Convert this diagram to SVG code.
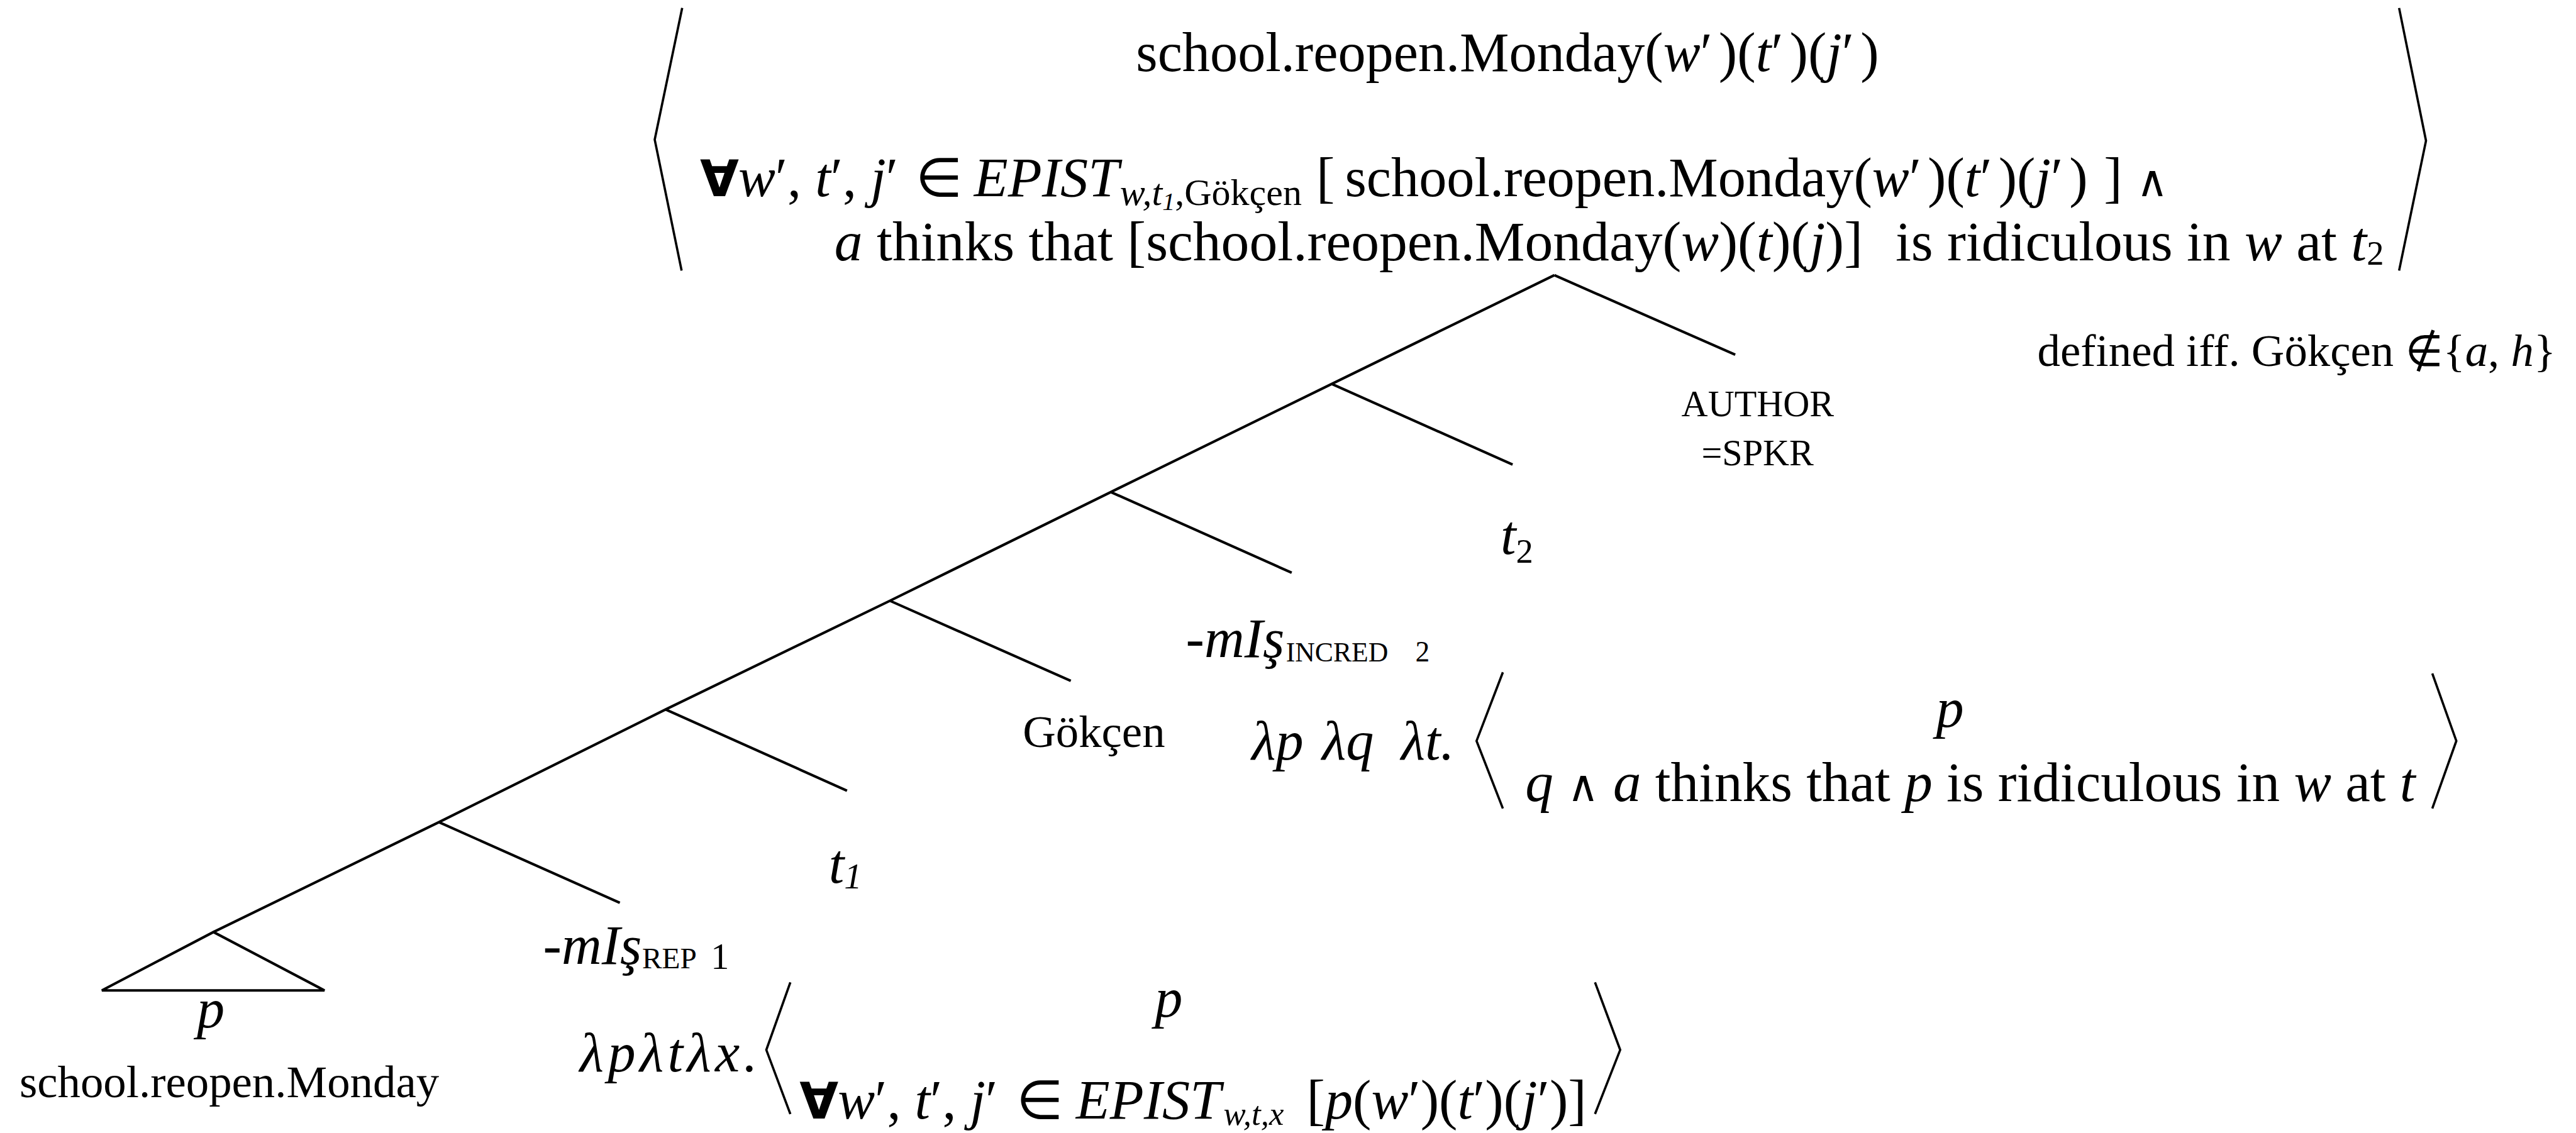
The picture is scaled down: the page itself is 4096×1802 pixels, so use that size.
<svg xmlns="http://www.w3.org/2000/svg" width="4096" height="1802" viewBox="0 0 4096 1802">
<style>
  text { font-family: 'Liberation Serif','Times New Roman','DejaVu Serif',serif; fill: #000; }
  .m { font-size: 97px; }
  .i { font-style: italic; }
  .s80 { font-size: 80px; }
  .s64 { font-size: 64px; }
  .sym { font-family: 'DejaVu Sans','Liberation Sans',sans-serif; font-style: normal; }
  .all { font-family: 'DejaVu Sans','Liberation Sans',sans-serif; font-style: normal; font-weight: bold; }
  .ln { stroke: #000; stroke-width: 4.5; fill: none; stroke-linecap: butt; stroke-linejoin: miter; }
  .br { stroke: #000; stroke-width: 4; fill: none; stroke-linejoin: miter; }
</style>
<rect x="0" y="0" width="4096" height="1802" fill="#ffffff"/>
<g transform="scale(0.91)">

  <!-- tree connectors -->
  <g id="connectors">
    <path class="ln" d="M2716,481 L2327,671 L1941,860 L1555,1050 L1163,1240 L767,1437 L373,1629"/>
    <path class="ln" d="M2716,481 L3032,620"/>
    <path class="ln" d="M2327,671 L2643,812"/>
    <path class="ln" d="M1941,860 L2257,1001"/>
    <path class="ln" d="M1555,1050 L1871,1190"/>
    <path class="ln" d="M1163,1240 L1480,1382"/>
    <path class="ln" d="M767,1437 L1083,1578"/>
  </g>

  <!-- root formula -->
  <g id="root-formula">
    <polyline class="br" points="1192,14 1144,244 1191,473"/>
    <polyline class="br" points="4192,14 4239,246 4192,473"/>
    <text class="m" x="1985" y="124">school.reopen.Monday(<tspan class="i">w</tspan>′<tspan dx="11">)(</tspan><tspan class="i">t</tspan>′<tspan dx="11">)(</tspan><tspan class="i">j</tspan>′<tspan dx="11">)</tspan></text>
    <text class="m" y="343"><tspan x="1223" class="all" font-size="88">∀</tspan><tspan x="1290" class="i">w</tspan>′, <tspan class="i">t</tspan>′, <tspan class="i">j</tspan>′ <tspan x="1600" class="sym" font-size="94">∈</tspan><tspan x="1702" class="i">EPIST</tspan><tspan x="1957" y="358" class="i" font-size="66">w,t</tspan><tspan y="367" class="i" font-size="44">1</tspan><tspan y="358" font-size="66">,Gökçen</tspan><tspan x="2300" y="343">[</tspan><tspan x="2350">school.reopen.Monday(</tspan><tspan class="i">w</tspan>′<tspan dx="11">)(</tspan><tspan class="i">t</tspan>′<tspan dx="11">)(</tspan><tspan class="i">j</tspan>′<tspan dx="11">)</tspan><tspan x="3676">]</tspan><tspan x="3733" class="sym" font-size="76">∧</tspan></text>
    <text font-size="98.5" y="455"><tspan x="1458" class="i">a</tspan> thinks that [school.reopen.Monday(<tspan class="i">w</tspan>)(<tspan class="i">t</tspan>)(<tspan class="i">j</tspan>)]<tspan x="3312">is ridiculous in </tspan><tspan class="i">w</tspan> at <tspan class="i">t</tspan><tspan y="463" font-size="60">2</tspan></text>
  </g>

  <g id="definedness">
    <text class="s80" x="3560" y="640">defined iff. Gökçen <tspan class="sym" font-size="76">∉</tspan>{<tspan class="i">a</tspan>, <tspan class="i">h</tspan>}</text>
  </g>

  <g id="node-author">
    <text class="s64" x="2938" y="727">AUTHOR</text>
    <text class="s64" x="2973" y="813">=SPKR</text>
  </g>

  <g id="node-t2">
    <text class="m i" x="2622" y="968">t<tspan y="983" font-size="60" font-style="normal">2</tspan></text>
  </g>

  <g id="node-incred">
    <text class="m" y="1148"><tspan x="2072">-</tspan><tspan class="i">mIş</tspan><tspan x="2247" y="1156" font-size="48">INCRED</tspan><tspan x="2473" y="1156" font-size="50">2</tspan></text>
  </g>

  <g id="node-incred-meaning">
    <text class="m i" y="1328"><tspan x="2187">λp</tspan><tspan x="2310">λq</tspan><tspan x="2448">λt.</tspan></text>
    <polyline class="br" points="2626,1175 2580,1295 2626,1413"/>
    <polyline class="br" points="4250,1177 4292,1295 4250,1413"/>
    <text class="m i" x="3383" y="1270">p</text>
    <text x="2665" y="1400" font-size="98"><tspan class="i">q</tspan> <tspan class="sym" font-size="76">∧</tspan> <tspan class="i">a</tspan> thinks that <tspan class="i">p</tspan> is ridiculous in <tspan class="i">w</tspan> at <tspan class="i">t</tspan></text>
  </g>

  <g id="node-gokcen">
    <text class="s80" x="1787" y="1305">Gökçen</text>
  </g>

  <g id="node-t1">
    <text class="m i" x="1448" y="1543">t<tspan y="1553" font-size="62">1</tspan></text>
  </g>

  <g id="node-rep">
    <text class="m" y="1685"><tspan x="949">-</tspan><tspan class="i">mIş</tspan><tspan x="1122" y="1692" font-size="52">REP</tspan><tspan x="1242" y="1693" font-size="64">1</tspan></text>
  </g>

  <g id="node-rep-meaning">
    <text class="m i" x="1013" y="1872" letter-spacing="7">λpλtλx.</text>
    <polyline class="br" points="1381,1717 1339,1835 1381,1947"/>
    <polyline class="br" points="2787,1717 2831,1835 2787,1947"/>
    <text class="m i" x="2018" y="1777">p</text>
    <text class="m" y="1955"><tspan x="1397" class="all" font-size="88">∀</tspan><tspan x="1464" class="i">w</tspan>′, <tspan class="i">t</tspan>′, <tspan class="i">j</tspan>′ <tspan x="1776" class="sym" font-size="94">∈</tspan><tspan x="1880" class="i">EPIST</tspan><tspan x="2138" y="1966" class="i" font-size="58">w,t,x</tspan><tspan x="2283" y="1955">[<tspan class="i">p</tspan>(<tspan class="i">w</tspan>′)(<tspan class="i">t</tspan>′)(<tspan class="i">j</tspan>′)]</tspan></text>
  </g>

  <g id="node-p">
    <polygon class="ln" points="373,1629 178,1731 567,1731"/>
    <text class="m i" x="344" y="1796">p</text>
    <text class="s80" x="34" y="1918">school.reopen.Monday</text>
  </g>

</g>
</svg>
